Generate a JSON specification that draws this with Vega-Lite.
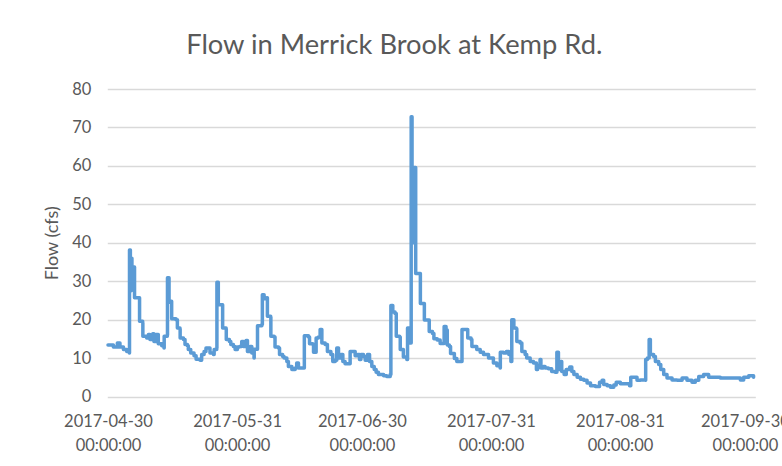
{
  "$schema": "https://vega.github.io/schema/vega-lite/v6.json",
  "width": 648,
  "height": 307.5,
  "autosize": {"type": "none"},
  "padding": {"left": 107.3, "top": 89, "right": 26.7, "bottom": 69.5},
  "background": "white",
  "config": {"view": {"stroke": null}, "font": "Lato"},
  "title": {
    "text": "Flow in Merrick Brook at Kemp Rd.",
    "anchor": "middle",
    "frame": "group",
    "dx": -37,
    "offset": 22,
    "font": "Lato",
    "fontSize": 27.3,
    "fontWeight": "normal",
    "color": "#595959"
  },
  "data": {
    "values": [
      {"t": "2017-04-30T00:00", "v": 13.4},
      {"t": "2017-05-01T07:00", "v": 12.9},
      {"t": "2017-05-02T06:00", "v": 13.9},
      {"t": "2017-05-02T21:00", "v": 12.9},
      {"t": "2017-05-03T17:00", "v": 12.2},
      {"t": "2017-05-04T12:00", "v": 11.7},
      {"t": "2017-05-05T03:00", "v": 11.3},
      {"t": "2017-05-05T04:00", "v": 38.1},
      {"t": "2017-05-05T09:00", "v": 27.5},
      {"t": "2017-05-05T14:00", "v": 36.0},
      {"t": "2017-05-05T18:00", "v": 27.8},
      {"t": "2017-05-06T01:00", "v": 33.7},
      {"t": "2017-05-06T09:00", "v": 25.7},
      {"t": "2017-05-07T13:00", "v": 25.7},
      {"t": "2017-05-07T14:00", "v": 19.6},
      {"t": "2017-05-08T08:00", "v": 19.1},
      {"t": "2017-05-08T09:00", "v": 15.7},
      {"t": "2017-05-09T07:00", "v": 15.2},
      {"t": "2017-05-09T17:00", "v": 16.1},
      {"t": "2017-05-10T02:00", "v": 14.8},
      {"t": "2017-05-10T18:00", "v": 16.3},
      {"t": "2017-05-11T01:00", "v": 14.3},
      {"t": "2017-05-11T13:00", "v": 16.1},
      {"t": "2017-05-12T02:00", "v": 13.7},
      {"t": "2017-05-12T22:00", "v": 13.2},
      {"t": "2017-05-13T11:00", "v": 12.6},
      {"t": "2017-05-13T12:00", "v": 15.7},
      {"t": "2017-05-14T06:00", "v": 16.0},
      {"t": "2017-05-14T07:00", "v": 30.9},
      {"t": "2017-05-14T16:00", "v": 24.5},
      {"t": "2017-05-15T01:00", "v": 24.8},
      {"t": "2017-05-15T07:00", "v": 20.2},
      {"t": "2017-05-16T08:00", "v": 20.0},
      {"t": "2017-05-16T16:00", "v": 17.8},
      {"t": "2017-05-17T07:00", "v": 17.6},
      {"t": "2017-05-17T08:00", "v": 15.2},
      {"t": "2017-05-18T03:00", "v": 14.8},
      {"t": "2017-05-18T12:00", "v": 13.5},
      {"t": "2017-05-19T02:00", "v": 13.2},
      {"t": "2017-05-19T07:00", "v": 12.2},
      {"t": "2017-05-19T21:00", "v": 11.3},
      {"t": "2017-05-20T16:00", "v": 10.6},
      {"t": "2017-05-21T04:00", "v": 9.7},
      {"t": "2017-05-22T03:00", "v": 9.4},
      {"t": "2017-05-22T12:00", "v": 10.9},
      {"t": "2017-05-23T02:00", "v": 11.7},
      {"t": "2017-05-23T13:00", "v": 12.6},
      {"t": "2017-05-24T09:00", "v": 12.6},
      {"t": "2017-05-24T12:00", "v": 11.3},
      {"t": "2017-05-25T08:00", "v": 10.9},
      {"t": "2017-05-25T12:00", "v": 12.2},
      {"t": "2017-05-26T03:00", "v": 12.6},
      {"t": "2017-05-26T04:00", "v": 29.7},
      {"t": "2017-05-26T12:00", "v": 23.9},
      {"t": "2017-05-27T08:00", "v": 23.9},
      {"t": "2017-05-27T13:00", "v": 17.8},
      {"t": "2017-05-28T09:00", "v": 17.6},
      {"t": "2017-05-28T10:00", "v": 14.8},
      {"t": "2017-05-29T04:00", "v": 14.3},
      {"t": "2017-05-29T12:00", "v": 13.5},
      {"t": "2017-05-30T03:00", "v": 13.0},
      {"t": "2017-05-30T13:00", "v": 12.2},
      {"t": "2017-05-31T02:00", "v": 12.9},
      {"t": "2017-05-31T14:00", "v": 13.0},
      {"t": "2017-06-01T03:00", "v": 14.3},
      {"t": "2017-06-01T13:00", "v": 13.0},
      {"t": "2017-06-02T04:00", "v": 14.6},
      {"t": "2017-06-02T12:00", "v": 11.7},
      {"t": "2017-06-03T03:00", "v": 13.0},
      {"t": "2017-06-03T13:00", "v": 11.3},
      {"t": "2017-06-04T02:00", "v": 10.0},
      {"t": "2017-06-04T03:00", "v": 12.3},
      {"t": "2017-06-04T18:00", "v": 12.3},
      {"t": "2017-06-04T22:00", "v": 18.4},
      {"t": "2017-06-05T23:00", "v": 18.7},
      {"t": "2017-06-06T02:00", "v": 26.5},
      {"t": "2017-06-06T12:00", "v": 25.4},
      {"t": "2017-06-07T03:00", "v": 25.7},
      {"t": "2017-06-07T07:00", "v": 20.9},
      {"t": "2017-06-08T02:00", "v": 20.7},
      {"t": "2017-06-08T03:00", "v": 15.7},
      {"t": "2017-06-08T22:00", "v": 15.5},
      {"t": "2017-06-09T03:00", "v": 12.9},
      {"t": "2017-06-09T23:00", "v": 12.6},
      {"t": "2017-06-10T05:00", "v": 10.9},
      {"t": "2017-06-10T23:00", "v": 10.4},
      {"t": "2017-06-11T07:00", "v": 10.0},
      {"t": "2017-06-11T23:00", "v": 9.1},
      {"t": "2017-06-12T08:00", "v": 7.8},
      {"t": "2017-06-13T04:00", "v": 7.0},
      {"t": "2017-06-13T23:00", "v": 7.4},
      {"t": "2017-06-14T08:00", "v": 8.7},
      {"t": "2017-06-14T18:00", "v": 7.4},
      {"t": "2017-06-16T03:00", "v": 7.4},
      {"t": "2017-06-16T04:00", "v": 15.8},
      {"t": "2017-06-17T04:00", "v": 15.5},
      {"t": "2017-06-17T10:00", "v": 13.7},
      {"t": "2017-06-18T05:00", "v": 13.5},
      {"t": "2017-06-18T09:00", "v": 11.5},
      {"t": "2017-06-19T00:00", "v": 15.2},
      {"t": "2017-06-19T13:00", "v": 15.5},
      {"t": "2017-06-19T23:00", "v": 17.4},
      {"t": "2017-06-20T09:00", "v": 13.9},
      {"t": "2017-06-21T04:00", "v": 13.5},
      {"t": "2017-06-21T17:00", "v": 11.7},
      {"t": "2017-06-22T13:00", "v": 10.9},
      {"t": "2017-06-23T00:00", "v": 9.1},
      {"t": "2017-06-23T14:00", "v": 9.4},
      {"t": "2017-06-23T23:00", "v": 12.6},
      {"t": "2017-06-24T09:00", "v": 10.0},
      {"t": "2017-06-24T22:00", "v": 10.9},
      {"t": "2017-06-25T10:00", "v": 9.1},
      {"t": "2017-06-25T23:00", "v": 8.5},
      {"t": "2017-06-27T00:00", "v": 8.5},
      {"t": "2017-06-27T04:00", "v": 11.7},
      {"t": "2017-06-28T03:00", "v": 11.7},
      {"t": "2017-06-28T09:00", "v": 10.6},
      {"t": "2017-06-28T23:00", "v": 10.9},
      {"t": "2017-06-29T10:00", "v": 9.6},
      {"t": "2017-06-29T18:00", "v": 10.9},
      {"t": "2017-06-30T09:00", "v": 10.4},
      {"t": "2017-06-30T19:00", "v": 9.4},
      {"t": "2017-07-01T08:00", "v": 10.9},
      {"t": "2017-07-01T20:00", "v": 9.1},
      {"t": "2017-07-02T09:00", "v": 7.8},
      {"t": "2017-07-02T23:00", "v": 7.0},
      {"t": "2017-07-03T10:00", "v": 6.3},
      {"t": "2017-07-03T23:00", "v": 5.7},
      {"t": "2017-07-05T05:00", "v": 5.4},
      {"t": "2017-07-05T23:00", "v": 5.2},
      {"t": "2017-07-06T19:00", "v": 5.7},
      {"t": "2017-07-06T23:00", "v": 23.7},
      {"t": "2017-07-07T10:00", "v": 22.0},
      {"t": "2017-07-07T23:00", "v": 21.6},
      {"t": "2017-07-08T06:00", "v": 15.7},
      {"t": "2017-07-09T01:00", "v": 15.5},
      {"t": "2017-07-09T05:00", "v": 12.2},
      {"t": "2017-07-09T23:00", "v": 10.3},
      {"t": "2017-07-10T19:00", "v": 9.6},
      {"t": "2017-07-10T23:00", "v": 17.8},
      {"t": "2017-07-11T11:00", "v": 17.8},
      {"t": "2017-07-11T12:00", "v": 13.9},
      {"t": "2017-07-11T19:00", "v": 13.9},
      {"t": "2017-07-11T20:00", "v": 72.8},
      {"t": "2017-07-12T01:00", "v": 40.0},
      {"t": "2017-07-12T05:00", "v": 59.6},
      {"t": "2017-07-12T20:00", "v": 59.6},
      {"t": "2017-07-12T22:00", "v": 32.0},
      {"t": "2017-07-14T00:00", "v": 32.0},
      {"t": "2017-07-14T01:00", "v": 24.2},
      {"t": "2017-07-14T23:00", "v": 24.2},
      {"t": "2017-07-15T00:00", "v": 19.9},
      {"t": "2017-07-16T02:00", "v": 19.9},
      {"t": "2017-07-16T04:00", "v": 16.9},
      {"t": "2017-07-16T23:00", "v": 16.4},
      {"t": "2017-07-17T07:00", "v": 15.0},
      {"t": "2017-07-18T02:00", "v": 14.7},
      {"t": "2017-07-18T19:00", "v": 13.8},
      {"t": "2017-07-19T16:00", "v": 13.8},
      {"t": "2017-07-19T18:00", "v": 18.2},
      {"t": "2017-07-20T05:00", "v": 17.3},
      {"t": "2017-07-20T12:00", "v": 13.4},
      {"t": "2017-07-21T00:00", "v": 13.0},
      {"t": "2017-07-21T07:00", "v": 11.2},
      {"t": "2017-07-22T05:00", "v": 9.9},
      {"t": "2017-07-22T19:00", "v": 9.1},
      {"t": "2017-07-24T00:00", "v": 9.1},
      {"t": "2017-07-24T01:00", "v": 17.4},
      {"t": "2017-07-25T02:00", "v": 17.4},
      {"t": "2017-07-25T10:00", "v": 15.2},
      {"t": "2017-07-26T05:00", "v": 14.8},
      {"t": "2017-07-26T10:00", "v": 13.0},
      {"t": "2017-07-27T14:00", "v": 12.2},
      {"t": "2017-07-28T10:00", "v": 11.5},
      {"t": "2017-07-29T05:00", "v": 10.9},
      {"t": "2017-07-30T10:00", "v": 10.0},
      {"t": "2017-07-31T14:00", "v": 8.7},
      {"t": "2017-08-01T10:00", "v": 8.0},
      {"t": "2017-08-02T05:00", "v": 7.4},
      {"t": "2017-08-02T06:00", "v": 11.5},
      {"t": "2017-08-03T00:00", "v": 11.3},
      {"t": "2017-08-03T17:00", "v": 11.7},
      {"t": "2017-08-04T07:00", "v": 10.9},
      {"t": "2017-08-04T19:00", "v": 9.1},
      {"t": "2017-08-05T00:00", "v": 20.0},
      {"t": "2017-08-05T12:00", "v": 17.8},
      {"t": "2017-08-06T02:00", "v": 17.6},
      {"t": "2017-08-06T05:00", "v": 14.3},
      {"t": "2017-08-07T00:00", "v": 13.9},
      {"t": "2017-08-07T10:00", "v": 11.7},
      {"t": "2017-08-08T05:00", "v": 10.9},
      {"t": "2017-08-08T14:00", "v": 10.0},
      {"t": "2017-08-09T10:00", "v": 9.1},
      {"t": "2017-08-10T05:00", "v": 8.7},
      {"t": "2017-08-10T22:00", "v": 7.0},
      {"t": "2017-08-11T05:00", "v": 8.0},
      {"t": "2017-08-11T19:00", "v": 9.6},
      {"t": "2017-08-12T00:00", "v": 7.4},
      {"t": "2017-08-12T14:00", "v": 7.8},
      {"t": "2017-08-13T00:00", "v": 7.4},
      {"t": "2017-08-13T19:00", "v": 7.2},
      {"t": "2017-08-14T14:00", "v": 6.5},
      {"t": "2017-08-15T10:00", "v": 6.3},
      {"t": "2017-08-15T20:00", "v": 11.5},
      {"t": "2017-08-16T05:00", "v": 7.0},
      {"t": "2017-08-16T19:00", "v": 9.1},
      {"t": "2017-08-17T00:00", "v": 6.5},
      {"t": "2017-08-17T14:00", "v": 5.7},
      {"t": "2017-08-18T02:00", "v": 7.0},
      {"t": "2017-08-18T22:00", "v": 7.7},
      {"t": "2017-08-19T10:00", "v": 6.5},
      {"t": "2017-08-19T22:00", "v": 5.7},
      {"t": "2017-08-20T17:00", "v": 5.0},
      {"t": "2017-08-21T12:00", "v": 4.5},
      {"t": "2017-08-22T07:00", "v": 4.2},
      {"t": "2017-08-23T02:00", "v": 3.5},
      {"t": "2017-08-23T22:00", "v": 2.8},
      {"t": "2017-08-25T02:00", "v": 2.6},
      {"t": "2017-08-26T02:00", "v": 3.7},
      {"t": "2017-08-26T17:00", "v": 4.2},
      {"t": "2017-08-27T02:00", "v": 3.1},
      {"t": "2017-08-27T22:00", "v": 2.8},
      {"t": "2017-08-28T17:00", "v": 2.4},
      {"t": "2017-08-29T12:00", "v": 3.0},
      {"t": "2017-08-30T02:00", "v": 3.7},
      {"t": "2017-08-31T02:00", "v": 3.3},
      {"t": "2017-09-01T07:00", "v": 3.3},
      {"t": "2017-09-02T07:00", "v": 2.8},
      {"t": "2017-09-02T14:00", "v": 5.0},
      {"t": "2017-09-03T17:00", "v": 5.0},
      {"t": "2017-09-04T02:00", "v": 4.2},
      {"t": "2017-09-04T22:00", "v": 4.3},
      {"t": "2017-09-06T02:00", "v": 4.2},
      {"t": "2017-09-06T04:00", "v": 9.6},
      {"t": "2017-09-06T14:00", "v": 10.0},
      {"t": "2017-09-07T00:00", "v": 14.8},
      {"t": "2017-09-07T07:00", "v": 10.9},
      {"t": "2017-09-08T02:00", "v": 10.4},
      {"t": "2017-09-08T12:00", "v": 9.1},
      {"t": "2017-09-09T07:00", "v": 8.3},
      {"t": "2017-09-09T19:00", "v": 7.0},
      {"t": "2017-09-10T12:00", "v": 5.7},
      {"t": "2017-09-11T07:00", "v": 4.8},
      {"t": "2017-09-12T12:00", "v": 4.3},
      {"t": "2017-09-13T17:00", "v": 4.2},
      {"t": "2017-09-14T22:00", "v": 4.8},
      {"t": "2017-09-16T02:00", "v": 4.2},
      {"t": "2017-09-17T07:00", "v": 3.7},
      {"t": "2017-09-18T02:00", "v": 4.2},
      {"t": "2017-09-18T22:00", "v": 5.2},
      {"t": "2017-09-20T02:00", "v": 5.7},
      {"t": "2017-09-21T07:00", "v": 5.0},
      {"t": "2017-09-22T12:00", "v": 5.0},
      {"t": "2017-09-24T02:00", "v": 4.8},
      {"t": "2017-09-25T17:00", "v": 4.8},
      {"t": "2017-09-27T07:00", "v": 4.8},
      {"t": "2017-09-28T22:00", "v": 4.3},
      {"t": "2017-09-29T17:00", "v": 5.0},
      {"t": "2017-09-30T22:00", "v": 5.4},
      {"t": "2017-10-02T02:00", "v": 5.0}
    ]
  },
  "mark": {"type": "line", "color": "#5B9BD5", "strokeWidth": 3.5, "strokeJoin": "round", "strokeCap": "round", "interpolate": "step-after"},
  "encoding": {
    "x": {
      "field": "t",
      "type": "temporal",
      "scale": {
        "domain": [
          {"year": 2017, "month": 4, "date": 29, "hours": 20},
          {"year": 2017, "month": 10, "date": 2, "hours": 12}
        ]
      },
      "axis": {
        "title": null,
        "values": [
          {"year": 2017, "month": 4, "date": 30},
          {"year": 2017, "month": 5, "date": 31},
          {"year": 2017, "month": 6, "date": 30},
          {"year": 2017, "month": 7, "date": 31},
          {"year": 2017, "month": 8, "date": 31},
          {"year": 2017, "month": 9, "date": 30}
        ],
        "labelExpr": "[timeFormat(datum.value, '%Y-%m-%d'), '00:00:00']",
        "grid": false,
        "domain": false,
        "ticks": false,
        "tickSize": 0,
        "labelPadding": 17,
        "labelFont": "Lato",
        "labelFontSize": 16.5,
        "labelColor": "#595959",
        "labelLineHeight": 24,
        "labelFlush": false,
        "labelOverlap": false,
        "labelBound": false
      }
    },
    "y": {
      "field": "v",
      "type": "quantitative",
      "scale": {"domain": [0, 80], "nice": false},
      "axis": {
        "title": "Flow (cfs)",
        "values": [0, 10, 20, 30, 40, 50, 60, 70, 80],
        "grid": true,
        "gridColor": "#D9D9D9",
        "gridWidth": 1.5,
        "domain": false,
        "ticks": false,
        "tickSize": 0,
        "labelPadding": 16.5,
        "labelFont": "Lato",
        "labelFontSize": 16.5,
        "labelColor": "#595959",
        "titleFont": "Lato",
        "titleFontSize": 18,
        "titleFontWeight": "normal",
        "titleColor": "#595959",
        "titlePadding": 10
      }
    },
    "order": {"value": null}
  }
}
